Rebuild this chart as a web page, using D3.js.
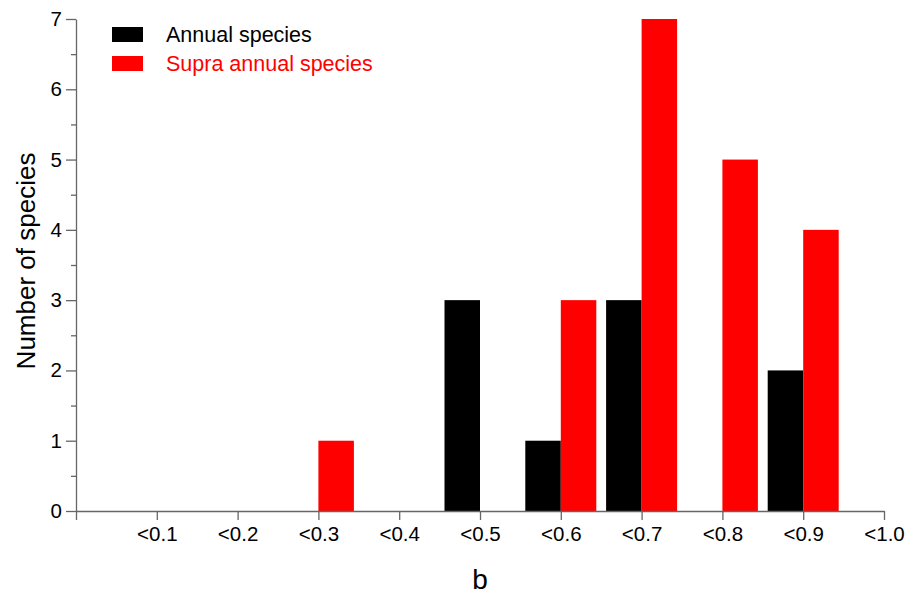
<!DOCTYPE html>
<html>
<head>
<meta charset="utf-8">
<script src="https://cdn.jsdelivr.net/npm/d3@7"></script>
<style>
  html, body { margin: 0; padding: 0; background: #fff; }
  svg { display: block; font-family: "Liberation Sans", Arial, Helvetica, sans-serif; }
  svg text { font-family: "Liberation Sans", Arial, Helvetica, sans-serif; }
</style>
</head>
<body>
<svg id="chart" width="907" height="596"></svg>
<script>
// Upper bounds of the b classes
const categories = ["<0.1", "<0.2", "<0.3", "<0.4", "<0.5", "<0.6", "<0.7", "<0.8", "<0.9", "<1.0"];
// Species counts per class
const annualSpecies = [0, 0, 0, 0, 3, 1, 3, 0, 2, 0];
const supraAnnualSpecies = [0, 0, 1, 0, 0, 3, 7, 5, 4, 0];
const yTicks = [0, 1, 2, 3, 4, 5, 6, 7];
const series = [
  { name: "Annual species", values: annualSpecies, color: "#000000", side: -1 },
  { name: "Supra annual species", values: supraAnnualSpecies, color: "#ff0000", side: 1 }
];

const svg = d3.select("#chart");
const x0 = 76, x1 = 884, yBottom = 511, yTop = 19;
const axisColor = "#666";

// Classes sit on tick positions; the origin tick is unlabeled
const x = d3.scalePoint().domain(["", ...categories]).range([x0, x1]);
const y = d3.scaleLinear().domain([0, 7]).range([yBottom, yTop]);
const barW = 35.5;

// Bars: annual to the left of the tick, supra annual to the right
series.forEach(s => {
  svg.append("g").selectAll("rect")
    .data(categories.map((c, i) => ({ c, v: s.values[i] })).filter(d => d.v > 0))
    .join("rect")
    .attr("x", d => s.side < 0 ? x(d.c) - barW : x(d.c))
    .attr("y", d => y(d.v))
    .attr("width", barW)
    .attr("height", d => y(0) - y(d.v))
    .attr("fill", s.color);
});

// X axis
const xAxis = svg.append("g").attr("transform", `translate(0,${yBottom})`)
  .call(d3.axisBottom(x).tickSize(9).tickPadding(6).tickSizeOuter(0));
xAxis.attr("font-size", null).attr("font-family", null);
xAxis.select(".domain").attr("stroke", axisColor).attr("stroke-width", 1.3);
xAxis.selectAll(".tick line").attr("stroke", axisColor).attr("stroke-width", 1.3);
xAxis.selectAll(".tick text").style("font-size", "20.5px").attr("fill", "#000");

// Y axis with half-unit minor ticks
const yMinor = svg.append("g").attr("transform", `translate(${x0},0)`)
  .call(d3.axisLeft(y).tickValues(d3.range(0.5, 7, 1)).tickSize(5).tickFormat("").tickSizeOuter(0));
yMinor.select(".domain").remove();
yMinor.selectAll(".tick line").attr("stroke", axisColor).attr("stroke-width", 1.3);

const yAxis = svg.append("g").attr("transform", `translate(${x0},0)`)
  .call(d3.axisLeft(y).tickValues(yTicks).tickFormat(d3.format("d")).tickSize(10).tickPadding(4).tickSizeOuter(0));
yAxis.attr("font-size", null).attr("font-family", null);
yAxis.select(".domain").attr("stroke", axisColor).attr("stroke-width", 1.3);
yAxis.selectAll(".tick line").attr("stroke", axisColor).attr("stroke-width", 1.3);
yAxis.selectAll(".tick text").style("font-size", "20.5px").attr("fill", "#000");

// Axis titles
svg.append("text")
  .attr("transform", `translate(35,${(yTop + yBottom) / 2 - 4}) rotate(-90)`)
  .attr("text-anchor", "middle").style("font-size", "26px")
  .text("Number of species");
svg.append("text")
  .attr("x", 480).attr("y", 589)
  .attr("text-anchor", "middle").style("font-size", "28px")
  .text("b");

// Legend
const legend = svg.append("g");
series.forEach((s, i) => {
  const ly = 27 + i * 29;
  legend.append("rect").attr("x", 112).attr("y", ly).attr("width", 31).attr("height", 15).attr("fill", s.color);
  legend.append("text").attr("x", 166).attr("y", ly + 15).style("font-size", "21.5px")
    .attr("fill", s.color).text(s.name);
});
</script>
</body>
</html>
